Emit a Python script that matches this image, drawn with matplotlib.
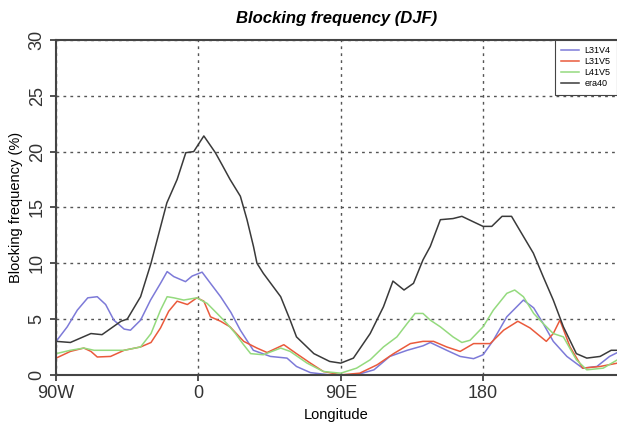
import matplotlib
matplotlib.use("Agg")
from matplotlib import pyplot as plt
import numpy as np

# longitude (deg, -90 = 90W) and blocking frequency (%)
lon_era40 = [-90, -81, -68, -61, -49, -45, -36.6, -30, -20, -13.5, -8, -3, 3.4, 10.7, 15,
             20, 26.5, 30.7, 34.8, 37, 41, 52, 58, 62, 73, 83, 90, 98, 108.6, 117, 123, 130,
             136, 142, 146.6, 153, 161, 166.6, 174, 180, 185.5, 192, 198, 203, 211.8, 218,
             224.4, 230.8, 239, 245.6, 254, 261, 265]
era40 = [3.0, 2.9, 3.7, 3.6, 4.8, 5.0, 7.0, 10.0, 15.4, 17.5, 19.9, 20.0, 21.4, 19.9, 18.8,
         17.5, 16.0, 13.9, 11.5, 10.0, 9.1, 7.0, 4.9, 3.4, 1.9, 1.2, 1.05, 1.5, 3.7, 6.1, 8.4, 7.6,
         8.2, 10.3, 11.5, 13.9, 14.0, 14.2, 13.7, 13.3, 13.3, 14.2, 14.2, 13.0, 10.9, 8.8,
         6.7, 4.3, 1.9, 1.5, 1.65, 2.2, 2.2]

lon_l31v4 = [-90, -83, -76.6, -70, -64, -58.7, -53.5, -47, -43, -36.6, -30.3, -24, -19.8,
             -15.6, -8.2, -4, 2.3, 7.6, 14, 20.5, 26.5, 34.7, 45.5, 56, 62, 70.8, 83, 100,
             111, 121, 132, 142, 146.6, 157, 165.5, 174, 180, 186.5, 195, 205.5, 212, 218,
             224.4, 233, 243, 252, 260, 265]
l31v4 = [3.0, 4.3, 5.8, 6.9, 7.0, 6.3, 4.9, 4.1, 4.0, 4.9, 6.7, 8.2, 9.25,
         8.8, 8.35, 8.85, 9.2, 8.2, 7.0, 5.6, 4.0, 2.2, 1.65, 1.5, 0.75, 0.2, 0.0, 0.0,
         0.45, 1.65, 2.2, 2.6, 2.9, 2.2, 1.65, 1.45, 1.8, 3.1, 5.2, 6.7, 6.0, 4.6,
         3.0, 1.65, 0.6, 0.75, 1.65, 2.0]

lon_l31v5 = [-90, -81, -72.5, -68, -64, -55.6, -47, -36.6, -30, -24, -18.8, -13.5, -7, -1,
             3.4, 7.6, 14, 20, 28.6, 37, 43.4, 54, 62, 70.8, 79, 90, 102, 113, 123.4, 134,
             142, 148.7, 157, 165.5, 174, 184.5, 193, 202, 209.7, 220, 224.4, 228.6, 235,
             243, 254, 265]
l31v5 = [1.5, 2.1, 2.4, 2.1, 1.6, 1.65, 2.2, 2.5, 2.9, 4.2, 5.7, 6.6, 6.3, 6.9,
         6.6, 5.2, 4.8, 4.3, 3.0, 2.4, 2.0, 2.7, 1.9, 1.05, 0.3, 0.0, 0.15, 0.9, 1.9, 2.8,
         3.0, 3.0, 2.5, 2.1, 2.8, 2.8, 4.0, 4.8, 4.2, 3.0, 3.7, 4.9, 2.5,
         0.6, 0.75, 1.05]

lon_l41v5 = [-90, -81, -72.5, -66, -57.7, -47, -36.6, -30, -24, -19.8, -15.6, -9.3, -1, 5.5,
             11.8, 18, 23.4, 28, 33, 41, 52, 58, 68.7, 79, 90, 100, 108.6, 117, 125.5, 132,
             137, 142, 146.6, 153, 161, 166.6, 171.8, 180, 186.5, 195, 200, 205.5, 212, 218,
             224.4, 230.8, 239, 245.6, 256, 265]
l41v5 = [1.9, 2.2, 2.4, 2.2, 2.2, 2.2, 2.5, 3.7, 5.8, 7.0, 6.9, 6.7, 6.9, 6.4,
         5.5, 4.6, 3.7, 2.8, 1.9, 1.8, 2.4, 2.1, 1.05, 0.3, 0.15, 0.6, 1.35, 2.5, 3.4, 4.6,
         5.5, 5.5, 4.9, 4.3, 3.4, 2.9, 3.1, 4.3, 5.8, 7.3, 7.6, 7.0, 5.5, 4.6,
         3.7, 3.4, 1.35, 0.45, 0.6, 1.35]

xticks = [-90, 0, 90, 180]
xtick_labels = ['90W', '0', '90E', '180']
yticks = [0, 5, 10, 15, 20, 25, 30]

plt.rcParams['font.family'] = ['Liberation Sans', 'DejaVu Sans']

fig = plt.figure(figsize=(6.17, 4.25), dpi=100)
ax = fig.add_axes([0.091, 0.118, 0.909, 0.788])

ax.plot(lon_l31v4, l31v4, color='#7d7ad8', lw=1.1, label='L31V4')
ax.plot(lon_l31v5, l31v5, color='#ea5a3c', lw=1.1, label='L31V5')
ax.plot(lon_l41v5, l41v5, color='#94da7e', lw=1.1, label='L41V5')
ax.plot(lon_era40, era40, color='#3a3a3a', lw=1.1, label='era40')

ax.set_xlim(-90, 264.7)
ax.set_ylim(0, 30)
ax.set_xticks(xticks)
ax.set_xticklabels(xtick_labels, fontsize=13)
ax.set_yticks(yticks)
ax.set_yticklabels([str(v) for v in yticks], fontsize=13, rotation=90, va='center')
ax.tick_params(direction='out', length=4, width=1.2, colors='#333333')

ax.grid(True, linestyle=(0, (2, 3)), color='#555555', lw=1.0)
for s in ['left', 'bottom', 'top']:
    ax.spines[s].set_linewidth(1.5)
    ax.spines[s].set_color('#444444')
ax.spines['right'].set_visible(False)

ax.set_title('Blocking frequency (DJF)', fontsize=12, fontweight='bold',
             fontstyle='italic', pad=12)
ax.set_xlabel('Longitude', fontsize=10.5)
ax.set_ylabel('Blocking frequency (%)', fontsize=10.5, labelpad=4)

leg = ax.legend(loc='upper right', fontsize=6.5, handlelength=2.0, borderaxespad=0,
                frameon=True, fancybox=False, edgecolor='#444444', framealpha=1,
                borderpad=0.7, labelspacing=0.22, handletextpad=0.6)
leg.get_frame().set_linewidth(0.8)

plt.savefig("out.png", dpi=100)
